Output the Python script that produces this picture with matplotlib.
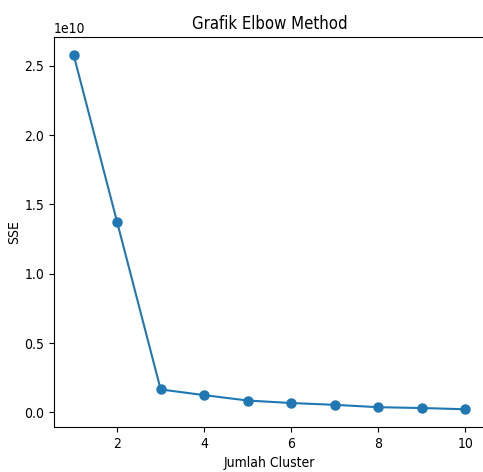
import matplotlib
matplotlib.use("Agg")
import matplotlib.pyplot as plt

# Elbow method data: number of clusters vs SSE
clusters = [1, 2, 3, 4, 5, 6, 7, 8, 9, 10]
sse = [2.58e10, 1.373e10, 0.166e10, 0.125e10, 0.086e10,
       0.068e10, 0.055e10, 0.038e10, 0.032e10, 0.023e10]

plt.rcParams["font.family"] = ["DejaVu Sans"]
plt.rcParams["font.stretch"] = "condensed"

fig = plt.figure(figsize=(4.83, 4.72), dpi=100)
ax = fig.add_axes([54 / 483, 45 / 472, 431 / 483, 390 / 472])

ax.plot(clusters, sse, marker="o", markersize=6.5, color="#1f77b4")
ax.set_title("Grafik Elbow Method")
ax.set_xlabel("Jumlah Cluster")
ax.set_ylabel("SSE", labelpad=2)

fig.savefig("out.png", dpi=100)
